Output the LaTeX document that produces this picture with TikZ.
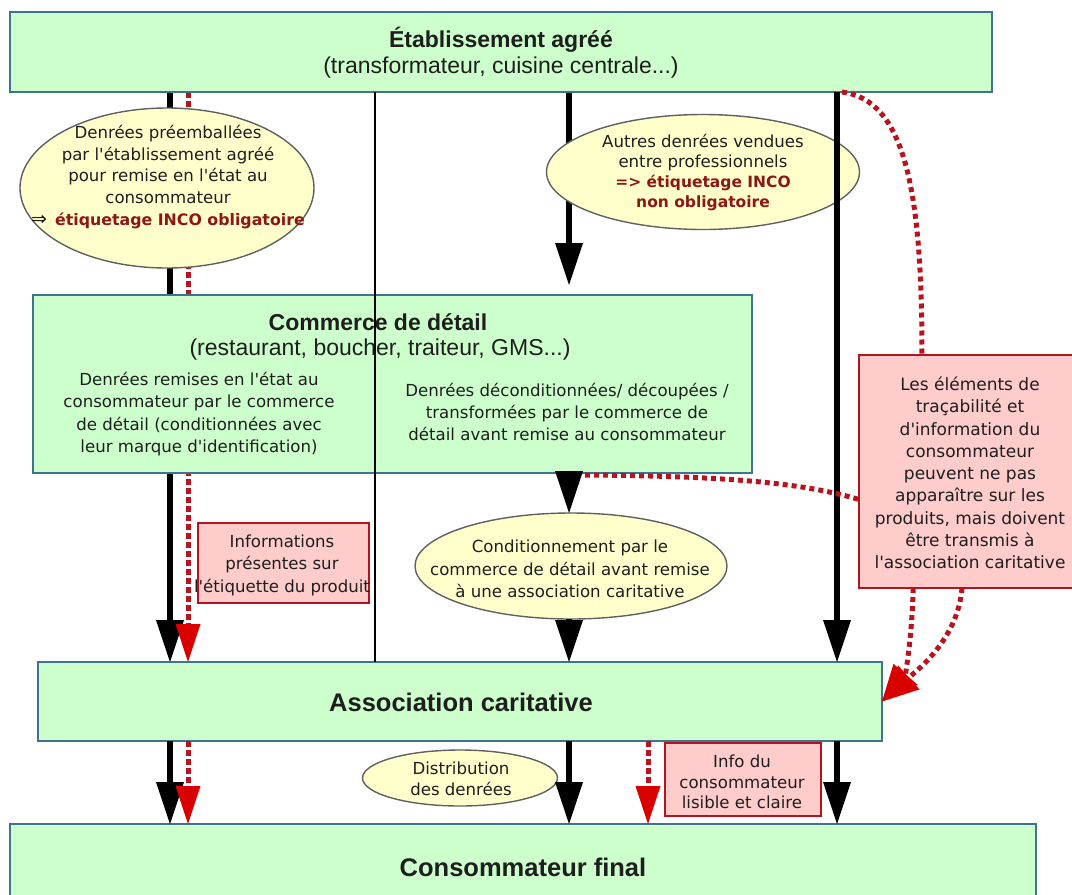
\documentclass[tikz,border=0pt]{standalone}
\usepackage{fontspec}
\setmainfont{DejaVu Sans}[Ligatures=TeXOff]
\newfontfamily\titlefont{Liberation Sans}
\usetikzlibrary{shapes.geometric,arrows.meta,calc}
\pgfdeclarelayer{back}
\pgfdeclarelayer{front}
\pgfsetlayers{back,main,front}

\definecolor{boxgreen}{HTML}{CCFFCC}
\definecolor{boxedge}{HTML}{41728F}
\definecolor{ellfill}{HTML}{FFFFCC}
\definecolor{elledge}{HTML}{606060}
\definecolor{pinkfill}{HTML}{FFCCCC}
\definecolor{pinkedge}{HTML}{B5141E}
\definecolor{incored}{HTML}{8E1616}
\definecolor{dashred}{HTML}{B8141E}
\definecolor{tipred}{HTML}{D90000}
\definecolor{txt}{HTML}{1E1E1E}

\begin{document}
\begin{tikzpicture}[x=1pt,y=-1pt,
  greenbox/.style={rectangle, draw=boxedge, line width=1.6pt, fill=boxgreen, inner sep=0pt, outer sep=0pt},
  ell/.style={ellipse, draw=elledge, line width=1.4pt, fill=ellfill, inner sep=0pt, outer sep=0pt},
  pinkbox/.style={rectangle, draw=pinkedge, line width=1.4pt, fill=pinkfill, inner sep=0pt, outer sep=0pt},
  bodytxt/.style={align=center, text=txt, font=\fontsize{16.6}{22.3}\selectfont, inner sep=0pt},
  titletxt/.style={text=txt, font=\titlefont\bfseries\fontsize{23}{27}\selectfont, inner sep=0pt},
  bigtitle/.style={text=txt, font=\titlefont\bfseries\fontsize{25.5}{30}\selectfont, inner sep=0pt},
  subtxt/.style={text=txt, font=\titlefont\fontsize{23}{27}\selectfont, inner sep=0pt},
  blackarrow/.style={draw=black, line width=6pt, -{Triangle[width=28pt,length=42pt,line width=0pt]}},
  reddash/.style={draw=dashred, line width=5pt, dash pattern=on 6pt off 3pt, -{Triangle[width=25pt,length=38pt,color=tipred,line width=0pt]}},
  reddot/.style={draw=dashred, line width=5pt, dash pattern=on 5pt off 4pt},
  reddottip/.style={reddot, -{Triangle[width=32pt,length=36pt,color=tipred,line width=0pt]}},
  thinline/.style={draw=black, line width=1.3pt},
]
\useasboundingbox (0,0) rectangle (1072,895);

% column coordinates
\coordinate (cA) at (170,0);
\coordinate (cR) at (188,0);
\coordinate (cT) at (375,0);
\coordinate (cM) at (569,0);
\coordinate (cX) at (648,0);
\coordinate (cD) at (837,0);

% boxes
\node[greenbox, minimum width=982pt, minimum height=80pt] (etab) at (501,52) {};
\node[greenbox, minimum width=719pt, minimum height=178pt] (comm) at (392.5,384) {};
\node[greenbox, minimum width=844pt, minimum height=79pt] (assoc) at (460,701.5) {};
\node[greenbox, minimum width=1026pt, minimum height=130pt] (cons) at (523,889) {};

% ellipses
\node[ell, minimum width=294pt, minimum height=160pt] (e1) at (167,188) {};
\node[ell, minimum width=313pt, minimum height=115pt] (e2) at (703,172) {};
\node[ell, minimum width=312pt, minimum height=106pt] (e3) at (571,566) {};
\node[ell, minimum width=195pt, minimum height=56pt] (e4) at (460,778) {};

% pink boxes
\node[pinkbox, minimum width=171pt, minimum height=80pt] (p1) at (283.5,563) {};
\node[pinkbox, minimum width=156pt, minimum height=73pt] (p2) at (743,779.5) {};
\node[pinkbox, minimum width=221pt, minimum height=233pt] (rbox) at (969.5,471.5) {};

% texts
\node[titletxt] (etabT) at (501,40) {Établissement agréé};
\node[subtxt] (etabS) at (501,68) {(transformateur, cuisine centrale...)};
\node[titletxt] (commT) at (378,322) {Commerce de détail};
\node[subtxt] (commS) at (380,350) {(restaurant, boucher, traiteur, GMS...)};
\node[bodytxt] (commL) at (199,414) {Denrées remises en l'état au\\consommateur par le commerce\\de détail (conditionnées avec\\leur marque d'identification)};
\node[bodytxt] (commR) at (567,412) {Denrées déconditionnées/ découpées /\\transformées par le commerce de\\détail avant remise au consommateur};
\node[bigtitle] (assocT) at (461,702) {Association caritative};
\node[bigtitle] (consT) at (523,867) {Consommateur final};

\node[bodytxt, font=\fontsize{16.6}{21.75}\selectfont] (e1T) at (168,177) {Denrées préemballées\\par l'établissement agréé\\pour remise en l'état au\\consommateur\\{\fontsize{19}{21.75}\selectfont ⇒}\hspace{8pt}{\color{incored}\bfseries\fontsize{15.8}{21.75}\selectfont étiquetage INCO obligatoire}};
\node[bodytxt, font=\fontsize{16.6}{20}\selectfont] (e2T) at (703,173) {Autres denrées vendues\\entre professionnels\\{\color{incored}\bfseries\fontsize{15.5}{20}\selectfont => étiquetage INCO}\\{\color{incored}\bfseries\fontsize{15.5}{20}\selectfont non obligatoire}};
\node[bodytxt, font=\fontsize{16.6}{22.5}\selectfont] (e3T) at (570,569) {Conditionnement par le\\commerce de détail avant remise\\à une association caritative};
\node[bodytxt, font=\fontsize{16.6}{21}\selectfont] (e4T) at (461,779) {Distribution\\des denrées};
\node[bodytxt, font=\fontsize{16.6}{22.5}\selectfont] (p1T) at (282,565) {Informations\\présentes sur\\l'étiquette du produit};
\node[bodytxt, font=\fontsize{16.6}{20.5}\selectfont] (p2T) at (742,782) {Info du\\consommateur\\lisible et claire};
\node[bodytxt, font=\fontsize{17}{22.3}\selectfont] (p3T) at (970,473) {Les éléments de\\traçabilité et\\d'information du\\consommateur\\peuvent ne pas\\apparaître sur les\\produits, mais doivent\\être transmis à\\l'association caritative};

% connectors hidden behind shapes
\begin{pgfonlayer}{back}
\draw[blackarrow] (etab.south -| cA) -- (assoc.north -| cA);
\draw[reddash] (etab.south -| cR) -- (assoc.north -| cR);
\draw[blackarrow, shorten >=10pt] (etab.south -| cM) -- (comm.north -| cM);
\end{pgfonlayer}

% main connectors
\draw[blackarrow] (comm.south -| cM) -- (e3.north -| cM);
\draw[blackarrow] (e3.south -| cM) -- (assoc.north -| cM);
\draw[blackarrow] (assoc.south -| cA) -- (cons.north -| cA);
\draw[reddash] (assoc.south -| cR) -- (cons.north -| cR);
\draw[blackarrow] (assoc.south -| cM) -- (cons.north -| cM);
\draw[reddash] (assoc.south -| cX) -- (cons.north -| cX);
\draw[blackarrow] (assoc.south -| cD) -- (cons.north -| cD);

\begin{pgfonlayer}{front}
\draw[thinline] (etab.south -| cT) -- (assoc.north -| cT);
\draw[blackarrow] (etab.south -| cD) -- (assoc.north -| cD);
\draw[reddot] ($(etab.south -| cD)+(5,0)$) .. controls (905,100) and (922,190) .. ($(rbox.north west)!0.285!(rbox.north east)$);
\draw[reddot] ($(comm.south -| cM)+(16,2)$) .. controls (720,476) and (800,482) .. ($(rbox.north west)!0.62!(rbox.south west)$);
\draw[reddottip] ($(rbox.south west)!0.245!(rbox.south east)$) .. controls (912,640) and (905,675) .. (assoc.east);
\draw[reddottip] ($(rbox.south west)!0.466!(rbox.south east)$) .. controls (958,640) and (915,672) .. (assoc.east);
\end{pgfonlayer}
\end{tikzpicture}
\end{document}
